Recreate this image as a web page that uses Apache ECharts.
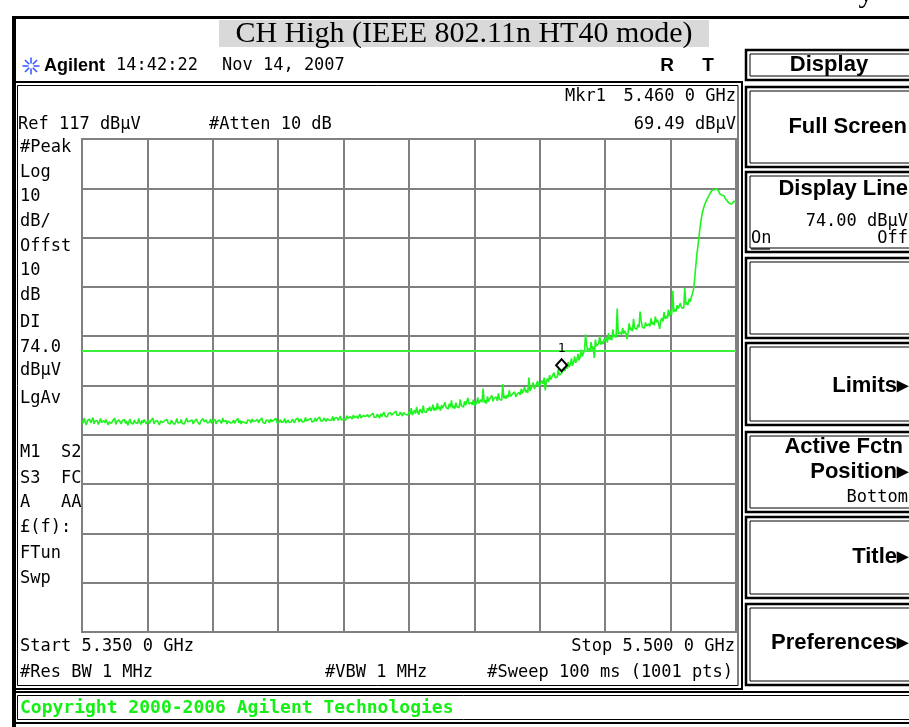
<!DOCTYPE html>
<html>
<head>
<meta charset="utf-8">
<script src="https://cdn.jsdelivr.net/npm/echarts@6/dist/echarts.min.js"></script>
<style>
  html, body { margin: 0; padding: 0; background: #fff; }
  #chart { width: 909px; height: 727px; }
</style>
</head>
<body>
<div id="chart"></div>
<script>
// Sweep settings (spectrum analyser screen)
const START_GHZ = 5.350;
const STOP_GHZ = 5.500;
const REF_LEVEL_DBUV = 117;
const DB_PER_DIV = 10;
const DIVISIONS = 10;
const DISPLAY_LINE_DBUV = 74.0;
const MARKER_FREQ_GHZ = 5.460;
const MARKER_LEVEL_DBUV = 69.49;

// Measured trace, dBuV, one reading every 0.25 MHz from start to stop
const traceLevels = [
  59.8, 59.3, 60.4, 59.6, 59.0, 59.9, 59.5, 60.2, 59.4, 59.7, 60.5, 59.2, 59.8, 59.4, 59.9, 59.1, 59.6, 60.3, 59.5, 59.2,
  59.9, 59.4, 60.1, 59.7, 59.0, 59.6, 60.0, 59.3, 59.8, 59.5, 60.4, 59.1, 59.7, 59.4, 60.0, 59.6, 59.2, 59.9, 59.5, 60.1,
  59.3, 59.8, 58.9, 59.6, 60.2, 59.4, 59.7, 59.2, 60.0, 59.5, 59.8, 59.3, 60.3, 59.6, 59.1, 59.9, 59.4, 60.1, 59.7, 59.2,
  59.6, 60.0, 59.3, 59.8, 59.5, 60.4, 59.2, 59.7, 59.4, 59.9, 59.6, 59.0, 59.8, 60.2, 59.5, 59.3, 59.9, 59.6, 60.1, 59.4,
  59.7, 59.2, 60.0, 59.5, 59.9, 59.1, 59.6, 60.3, 59.4, 59.8, 59.5, 60.1, 59.3, 59.7, 59.2, 59.9, 60.4, 59.6, 59.3, 59.8,
  59.5, 60.0, 59.2, 59.7, 59.4, 60.2, 59.6, 59.9, 59.1, 59.8, 59.5, 60.3, 59.7, 59.3, 60.0, 59.4, 59.8, 59.6, 60.2, 59.3,
  59.9, 59.5, 60.1, 59.2, 59.7, 59.4, 60.0, 59.6, 59.3, 60.4, 59.7, 59.5, 59.9, 59.2, 59.8, 60.1, 59.4, 59.7, 59.5, 60.0,
  59.3, 59.8, 59.6, 60.3, 59.4, 59.9, 59.2, 59.7, 60.1, 59.5, 59.8, 59.3, 60.0, 59.6, 59.9, 59.4, 60.2, 59.7, 59.3, 59.8,
  59.6, 60.1, 59.4, 59.9, 59.7, 60.4, 59.5, 59.8, 59.3, 60.0, 59.6, 59.9, 59.4, 60.2, 59.7, 59.5, 60.0, 59.6, 60.3, 59.4,
  59.8, 59.6, 60.1, 59.5, 59.9, 59.7, 60.3, 59.4, 59.8, 60.0, 59.5, 59.9, 59.6, 60.2, 59.8, 59.4, 60.1, 59.7, 60.4, 59.6,
  59.9, 60.2, 59.6, 60.0, 59.7, 60.5, 59.8, 59.5, 60.1, 59.9, 60.3, 59.6, 60.0, 59.8, 60.4, 59.7, 60.2, 59.9, 60.6, 59.8,
  60.1, 59.8, 60.4, 60.0, 59.7, 60.3, 60.6, 59.9, 60.2, 60.0, 60.7, 59.8, 60.4, 60.1, 60.5, 59.9, 60.3, 60.8, 60.0, 60.4,
  60.2, 60.6, 60.0, 60.9, 60.3, 60.1, 60.7, 60.4, 60.2, 61.0, 60.5, 60.1, 60.8, 60.3, 60.6, 61.2, 60.4, 60.2, 60.9, 60.5,
  60.7, 60.3, 61.1, 60.6, 60.4, 61.0, 60.7, 61.4, 60.5, 60.9, 60.6, 61.2, 60.8, 60.4, 61.3, 60.7, 61.0, 61.6, 60.8, 61.1,
  60.6, 61.3, 60.9, 61.5, 61.0, 60.7, 61.4, 61.1, 61.8, 60.9, 61.3, 61.0, 61.6, 61.2, 60.8, 61.5, 61.9, 61.1, 61.4, 61.0,
  61.7, 61.2, 62.4, 61.0, 61.5, 62.0, 61.3, 62.6, 61.6, 61.1, 62.2, 61.8, 61.4, 62.9, 61.7, 62.1, 61.5, 62.4, 61.9, 62.7,
  61.8, 62.3, 63.1, 61.9, 62.5, 62.0, 63.4, 62.2, 62.7, 61.9, 63.0, 62.4, 62.1, 63.6, 62.5, 62.8, 62.2, 63.3, 62.6, 64.0,
  62.4, 62.9, 62.3, 63.5, 62.7, 63.1, 62.5, 64.2, 62.9, 63.3, 62.6, 63.8, 63.0, 62.7, 64.5, 63.2, 62.9, 63.6, 63.1, 64.1,
  62.9, 63.7, 63.2, 64.6, 63.4, 63.0, 64.1, 63.6, 66.4, 63.5, 64.0, 63.3, 64.8, 63.7, 64.3, 63.9, 65.0, 63.8, 64.4, 64.0,
  64.7, 63.9, 65.4, 64.2, 64.6, 64.0, 67.3, 64.4, 64.9, 64.3, 65.1, 64.6, 66.0, 64.8, 64.5, 65.3, 64.9, 65.7, 64.7, 65.2,
  64.9, 65.6, 65.1, 66.3, 65.4, 65.0, 66.7, 65.6, 66.1, 65.5, 68.6, 65.9, 66.4, 66.0, 67.6, 66.3, 66.8, 66.4, 67.9, 66.7,
  67.2, 66.8, 68.0, 67.3, 68.6, 66.0, 67.9, 68.4, 67.7, 69.1, 68.2, 68.7, 68.3, 69.6, 68.6, 69.0, 68.7, 70.3, 69.1, 69.4,
  69.49, 70.0, 70.6, 69.9, 71.2, 70.4, 71.8, 70.7, 71.3, 72.5, 71.0, 71.7, 72.9, 71.6, 72.2, 73.4, 72.1, 72.8, 74.3, 72.9,
  73.6, 74.1, 77.4, 75.2, 73.9, 74.5, 74.0, 75.8, 74.3, 74.9, 72.6, 76.3, 75.0, 74.6, 75.5, 77.0, 75.3, 75.9, 75.4, 76.5,
  75.9, 76.8, 75.7, 77.6, 76.3, 76.9, 76.2, 78.4, 76.8, 77.3, 76.7, 82.6, 77.4, 77.0, 77.8, 77.3, 78.7, 77.5, 78.1, 77.6,
  76.4, 77.8, 79.6, 78.2, 78.7, 78.0, 80.5, 78.6, 79.0, 78.4, 79.4, 78.8, 82.0, 80.1, 78.9, 79.3, 78.6, 79.8, 79.1, 78.7,
  79.5, 79.0, 80.6, 79.4, 79.9, 79.2, 81.0, 79.8, 80.3, 79.6, 78.5, 80.2, 80.7, 80.0, 81.9, 80.5, 81.1, 80.6, 82.4, 81.0,
  82.2, 81.4, 86.2, 81.9, 82.5, 82.0, 83.3, 82.6, 82.2, 83.7, 82.8, 83.2, 82.7, 86.8, 83.4, 83.9, 83.3, 84.6, 84.0, 84.9,
  85.6, 86.5, 88.3, 91.0, 93.4, 95.2, 97.1, 99.0, 100.6, 101.9, 102.8, 103.5, 104.1, 104.6, 105.0, 105.4, 105.9, 106.3, 106.6, 106.2,
  106.7, 106.4, 106.9, 107.1, 106.5, 105.9, 106.2, 105.6, 105.3, 105.5, 105.0, 104.7, 104.4, 104.1, 103.9, 104.0, 103.8, 104.2, 104.4, 104.2,
  104.1
];

// Evenly spaced sweep frequencies for the readings above
const sweepStep = (STOP_GHZ - START_GHZ) / (traceLevels.length - 1);
const tracePoints = traceLevels.map((v, i) => [START_GHZ + i * sweepStep, v]);

// Annotation text of the instrument screen
const sideLabels = ['#Peak', 'Log', '10', 'dB/', 'Offst', '10', 'dB', 'DI', DISPLAY_LINE_DBUV.toFixed(1), 'dBµV', 'LgAv'];
const sideLabelsLower = ['M1  S2', 'S3  FC', 'A   AA', '£(f):', 'FTun', 'Swp'];

const MONO = '"DejaVu Sans Mono", monospace';
const SANS = '"Liberation Sans", Arial, sans-serif';
const SERIF = '"Liberation Serif", "Times New Roman", serif';

function txt(text, x, y, font, align, fill) {
  return {
    type: 'text', x: x, y: y, z: 100,
    style: {
      text: text, font: font, fill: fill || '#000',
      align: align || 'left', textAlign: align || 'left',
      verticalAlign: 'middle', textVerticalAlign: 'middle'
    }
  };
}
function box(x, y, w, h, lw) {
  return {
    type: 'rect', z: 90,
    shape: { x: x, y: y, width: w, height: h },
    style: { fill: null, stroke: '#000', lineWidth: lw }
  };
}
function fillRect(x, y, w, h, color) {
  return { type: 'rect', z: 80, shape: { x: x, y: y, width: w, height: h }, style: { fill: color } };
}
function seg(x1, y1, x2, y2, lw, color) {
  return { type: 'line', z: 95, shape: { x1: x1, y1: y1, x2: x2, y2: y2 }, style: { stroke: color || '#000', lineWidth: lw } };
}
function softKey(y, h) {
  return [box(746, y, 170, h, 2.5), box(750, y + 4, 170, h - 8, 1)];
}

const elements = [];

// Outer frame and title strip
elements.push(fillRect(12, 16, 897, 3, '#000'));
elements.push(fillRect(12, 16, 4, 711, '#000'));
elements.push(fillRect(219, 20, 490, 27, '#d9d9d9'));
elements.push(txt('CH High (IEEE 802.11n HT40 mode)', 464, 34, '30px ' + SERIF, 'center'));
elements.push(txt('y', 866, -6, '30px ' + SERIF, 'center'));

// Status line
(function logo() {
  const cx = 31, cy = 66;
  for (let k = 0; k < 8; k++) {
    const a = k * Math.PI / 4;
    elements.push(seg(cx + Math.cos(a) * 2.5, cy + Math.sin(a) * 2.5, cx + Math.cos(a) * 8.5, cy + Math.sin(a) * 8.5, 1.5, '#3050ff'));
  }
})();
elements.push(txt('Agilent', 44, 66, 'bold 18px ' + SANS, 'left'));
elements.push(txt('14:42:22', 116, 66, '17px ' + MONO, 'left'));
elements.push(txt('Nov 14, 2007', 222, 66, '17px ' + MONO, 'left'));
elements.push(txt('R', 667, 66, 'bold 19px ' + SANS, 'center'));
elements.push(txt('T', 708, 66, 'bold 19px ' + SANS, 'center'));

// Screen box around the graticule
elements.push(box(13, 82, 729, 607, 2));
elements.push(box(17.5, 85.5, 720.5, 600, 1));

// Marker and reference read-outs
elements.push(txt('Mkr1', 565, 97, '17px ' + MONO, 'left'));
elements.push(txt(MARKER_FREQ_GHZ.toFixed(3) + ' 0 GHz', 736, 97, '17px ' + MONO, 'right'));
elements.push(txt('Ref ' + REF_LEVEL_DBUV + ' dBµV', 18, 125, '17px ' + MONO, 'left'));
elements.push(txt('#Atten 10 dB', 209, 125, '17px ' + MONO, 'left'));
elements.push(txt(MARKER_LEVEL_DBUV.toFixed(2) + ' dBµV', 736, 125, '17px ' + MONO, 'right'));

// Left side annotation column
const upperY = [148, 173, 197, 222, 247, 271, 296, 323, 348, 371, 399];
sideLabels.forEach((s, i) => elements.push(txt(s, 20, upperY[i], '17px ' + MONO, 'left')));
const lowerY = [453, 479, 503, 528, 554, 579];
sideLabelsLower.forEach((s, i) => elements.push(txt(s, 20, lowerY[i], '17px ' + MONO, 'left')));

// Span read-outs
elements.push(txt('Start ' + START_GHZ.toFixed(3) + ' 0 GHz', 20, 647, '17px ' + MONO, 'left'));
elements.push(txt('Stop ' + STOP_GHZ.toFixed(3) + ' 0 GHz', 735, 647, '17px ' + MONO, 'right'));
elements.push(txt('#Res BW 1 MHz', 20, 673, '17px ' + MONO, 'left'));
elements.push(txt('#VBW 1 MHz', 325, 673, '17px ' + MONO, 'left'));
elements.push(txt('#Sweep 100 ms (1001 pts)', 733, 673, '17px ' + MONO, 'right'));

// Copyright bar
elements.push(box(14, 692, 900, 31, 2));
elements.push(box(17.5, 695.5, 900, 24, 1));
elements.push(txt('Copyright 2000-2006 Agilent Technologies', 20, 708, 'bold 18px ' + MONO, 'left', '#14f014'));

// Soft keys
[[50, 30], [87, 80], [172, 80], [258, 80], [343, 82], [432, 80], [517, 81], [604, 81]].forEach(k => {
  softKey(k[0], k[1]).forEach(e => elements.push(e));
});
const KEY = 'bold 22px ' + SANS;
elements.push(txt('Display', 829, 65, KEY, 'center'));
elements.push(txt('Full Screen', 907, 127, KEY, 'right'));
elements.push(txt('Display Line', 908, 189, KEY, 'right'));
elements.push(txt(DISPLAY_LINE_DBUV.toFixed(2) + ' dBµV', 908, 222, '17px ' + MONO, 'right'));
elements.push(txt('On', 751, 239, '17px ' + MONO, 'left'));
elements.push(seg(751, 249, 770, 249, 1.2));
elements.push(txt('Off', 908, 239, '17px ' + MONO, 'right'));
elements.push(txt('Limits▸', 908, 386, KEY, 'right'));
elements.push(txt('Active Fctn', 903, 447, KEY, 'right'));
elements.push(txt('Position▸', 908, 472, KEY, 'right'));
elements.push(txt('Bottom', 908, 498, '17px ' + MONO, 'right'));
elements.push(txt('Title▸', 908, 557, KEY, 'right'));
elements.push(txt('Preferences▸', 908, 643, KEY, 'right'));

const chart = echarts.init(document.getElementById('chart'), null, { renderer: 'canvas' });
chart.setOption({
  animation: false,
  backgroundColor: '#fff',
  grid: {
    left: 82, top: 139, width: 654, height: 493,
    show: true, borderColor: '#808080', borderWidth: 2, backgroundColor: 'transparent'
  },
  xAxis: [
    {
      // graticule divisions
      type: 'value', min: 0, max: DIVISIONS, interval: 1,
      axisLine: { show: false }, axisTick: { show: false }, axisLabel: { show: false },
      splitLine: { show: true, lineStyle: { color: '#808080', width: 2 } }
    },
    {
      type: 'value', min: START_GHZ, max: STOP_GHZ, show: false,
      splitLine: { show: false }
    }
  ],
  yAxis: [
    {
      type: 'value', min: 0, max: DIVISIONS, interval: 1,
      axisLine: { show: false }, axisTick: { show: false }, axisLabel: { show: false },
      splitLine: { show: true, lineStyle: { color: '#808080', width: 2 } }
    },
    {
      type: 'value', min: REF_LEVEL_DBUV - DB_PER_DIV * DIVISIONS, max: REF_LEVEL_DBUV, show: false,
      splitLine: { show: false }
    }
  ],
  series: [{
    type: 'line',
    xAxisIndex: 1, yAxisIndex: 1,
    data: tracePoints,
    showSymbol: false,
    lineStyle: { color: '#1ef51e', width: 1.6 },
    itemStyle: { color: '#1ef51e' },
    markLine: {
      silent: true, symbol: ['none', 'none'],
      label: { show: false },
      lineStyle: { color: '#3cf03c', width: 2, type: 'solid' },
      data: [{ yAxis: DISPLAY_LINE_DBUV }]
    },
    markPoint: {
      silent: true,
      symbol: 'diamond', symbolSize: [11, 12], symbolOffset: [0, -8],
      itemStyle: { color: 'rgba(0,0,0,0)', borderColor: '#000', borderWidth: 2 },
      label: { show: true, position: 'top', distance: 3, formatter: '1', color: '#000', fontFamily: 'DejaVu Sans Mono', fontSize: 13 },
      data: [{ coord: [MARKER_FREQ_GHZ, MARKER_LEVEL_DBUV] }]
    }
  }],
  graphic: { elements: elements }
});
</script>
</body>
</html>
